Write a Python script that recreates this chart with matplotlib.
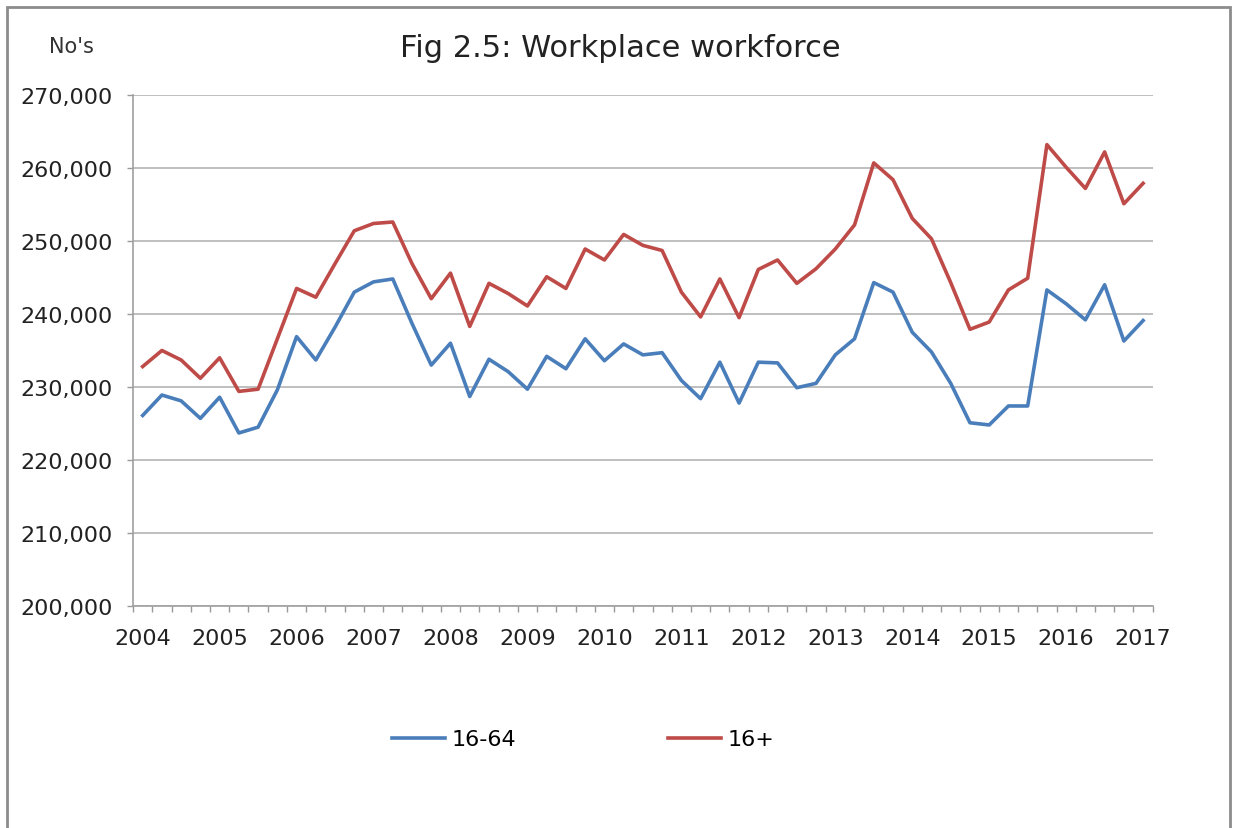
import numpy as np
import matplotlib
matplotlib.use('Agg')
import matplotlib.pyplot as plt
from matplotlib.ticker import FuncFormatter, MultipleLocator, FixedLocator
from matplotlib.patches import Rectangle

# datos trimestrales, 2004 Q1 a 2017 Q1
anios = ['2004', '2005', '2006', '2007', '2008', '2009', '2010',
         '2011', '2012', '2013', '2014', '2015', '2016', '2017']

edad_16_64 = [226100, 228900, 228100, 225700, 228600, 223700, 224500, 229600,
              236900, 233700, 238200, 243000, 244400, 244800, 238700, 233000,
              236000, 228700, 233800, 232100, 229700, 234200, 232500, 236600,
              233600, 235900, 234400, 234700, 230900, 228400, 233400, 227800,
              233400, 233300, 229900, 230500, 234400, 236600, 244300, 243000,
              237500, 234800, 230500, 225100, 224800, 227400, 227400, 243300,
              241400, 239200, 244000, 236300, 239100]

edad_16_mas = [232800, 235000, 233700, 231200, 234000, 229400, 229700, 236600,
               243500, 242300, 246900, 251400, 252400, 252600, 246900, 242100,
               245600, 238300, 244200, 242800, 241100, 245100, 243500, 248900,
               247400, 250900, 249400, 248700, 243000, 239600, 244800, 239500,
               246100, 247400, 244200, 246200, 248900, 252200, 260700, 258400,
               253100, 250300, 244300, 237900, 238900, 243300, 244900, 263200,
               260100, 257200, 262200, 255100, 257900]

x = np.arange(len(edad_16_64))

fig = plt.figure(figsize=(12.33, 8.29), dpi=100)
ax = fig.add_axes([0.1079, 0.2678, 0.827, 0.6164])

azul = '#4A7EBB'
rojo = '#BE4B48'
ax.plot(x, edad_16_64, color=azul, lw=2.6, label='16-64')
ax.plot(x, edad_16_mas, color=rojo, lw=2.6, label='16+')

ax.set_xlim(-0.5, len(x) - 0.5)
ax.set_ylim(200000, 270000)
ax.yaxis.set_major_locator(MultipleLocator(10000))
ax.yaxis.set_major_formatter(FuncFormatter(lambda v, p: '{:,.0f}'.format(v)))
ax.grid(axis='y', color='#B4B4B4', lw=1.2)
ax.set_axisbelow(True)

ax.xaxis.set_major_locator(FixedLocator(x[::4]))
ax.set_xticklabels(anios)
ax.xaxis.set_minor_locator(FixedLocator(np.arange(-0.5, len(x), 1)))
ax.tick_params(axis='x', which='major', length=0, pad=16, labelsize=16,
               labelcolor='#222222')
ax.tick_params(axis='x', which='minor', length=4, color='#999999', width=1)
ax.tick_params(axis='y', length=4.5, color='#999999', width=1, pad=10,
               labelsize=16, labelcolor='#222222')

for s in ['top', 'right']:
    ax.spines[s].set_visible(False)
for s in ['left', 'bottom']:
    ax.spines[s].set_color('#A0A0A0')
    ax.spines[s].set_linewidth(1.2)

fig.text(0.503, 0.942, 'Fig 2.5: Workplace workforce', ha='center', va='center',
         fontsize=22, color='#222222')
fig.text(0.058, 0.943, "No's", ha='center', va='center', fontsize=15,
         color='#333333')

fig.legend(loc='center', bbox_to_anchor=(0.473, 0.107), ncol=2, frameon=False,
           fontsize=16, handlelength=2.4, handletextpad=0.3, columnspacing=6.8)

# marco del grafico
fig.patches.append(Rectangle((7 / 1233, -0.05), 1223 / 1233, 1.05 - 8 / 829,
                             transform=fig.transFigure, fill=False,
                             edgecolor='#8C8C8C', lw=2))

plt.savefig('out.png', dpi=100)
